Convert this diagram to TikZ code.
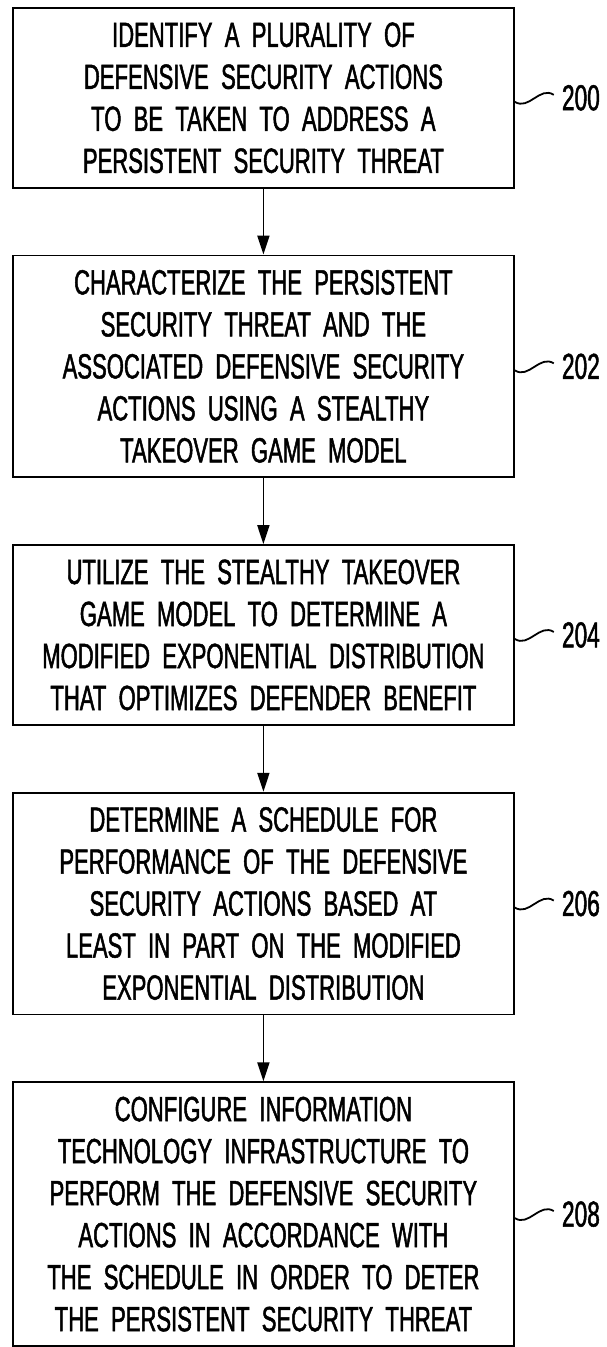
\documentclass[tikz,border=0pt]{standalone}
\usepackage{fontspec}
\setmainfont{Liberation Sans}[FakeStretch=0.63,FakeBold=1.4,WordSpace=2.0]
\usepackage{tikz}
\usetikzlibrary{arrows.meta, positioning}

\tikzset{
  stepbox/.style={draw, line width=1.8pt, minimum width=501pt, inner xsep=6pt, inner ysep=14.5pt, align=center, font=\fontsize{35pt}{42pt}\selectfont},
  reflabel/.style={inner sep=8pt, font=\fontsize{36pt}{42pt}\selectfont},
  flow/.style={line width=1.8pt, -{Triangle[length=19pt,width=12pt]}},
  squig/.style={line width=1.8pt}
}

\begin{document}
\begin{tikzpicture}[x=1pt, y=1pt]
\useasboundingbox (0,0) rectangle (607,-1347);

\node[stepbox, anchor=north west] (b200) at (12,-7) {IDENTIFY A PLURALITY OF\\DEFENSIVE SECURITY ACTIONS\\TO BE TAKEN TO ADDRESS A\\PERSISTENT SECURITY THREAT};
\node[stepbox, below=66pt of b200] (b202) {CHARACTERIZE THE PERSISTENT\\SECURITY THREAT AND THE\\ASSOCIATED DEFENSIVE SECURITY\\ACTIONS USING A STEALTHY\\TAKEOVER GAME MODEL};
\node[stepbox, below=66pt of b202] (b204) {UTILIZE THE STEALTHY TAKEOVER\\GAME MODEL TO DETERMINE A\\MODIFIED EXPONENTIAL DISTRIBUTION\\THAT OPTIMIZES DEFENDER BENEFIT};
\node[stepbox, below=66pt of b204] (b206) {DETERMINE A SCHEDULE FOR\\PERFORMANCE OF THE DEFENSIVE\\SECURITY ACTIONS BASED AT\\LEAST IN PART ON THE MODIFIED\\EXPONENTIAL DISTRIBUTION};
\node[stepbox, below=66pt of b206] (b208) {CONFIGURE INFORMATION\\TECHNOLOGY INFRASTRUCTURE TO\\PERFORM THE DEFENSIVE SECURITY\\ACTIONS IN ACCORDANCE WITH\\THE SCHEDULE IN ORDER TO DETER\\THE PERSISTENT SECURITY THREAT};

\draw[flow] (b200) -- (b202);
\draw[flow] (b202) -- (b204);
\draw[flow] (b204) -- (b206);
\draw[flow] (b206) -- (b208);

\node[reflabel, right=39pt of b200] (l200) {200};
\node[reflabel, right=39pt of b202] (l202) {202};
\node[reflabel, right=39pt of b204] (l204) {204};
\node[reflabel, right=39pt of b206] (l206) {206};
\node[reflabel, right=39pt of b208] (l208) {208};

\draw[squig] ([yshift=-4pt]b200.east) .. controls +(14pt,-9pt) and +(-14pt,9pt) .. ([yshift=3pt]l200.west);
\draw[squig] ([yshift=-4pt]b202.east) .. controls +(14pt,-9pt) and +(-14pt,9pt) .. ([yshift=3pt]l202.west);
\draw[squig] ([yshift=-4pt]b204.east) .. controls +(14pt,-9pt) and +(-14pt,9pt) .. ([yshift=3pt]l204.west);
\draw[squig] ([yshift=-4pt]b206.east) .. controls +(14pt,-9pt) and +(-14pt,9pt) .. ([yshift=3pt]l206.west);
\draw[squig] ([yshift=-4pt]b208.east) .. controls +(14pt,-9pt) and +(-14pt,9pt) .. ([yshift=3pt]l208.west);
\end{tikzpicture}
\end{document}
